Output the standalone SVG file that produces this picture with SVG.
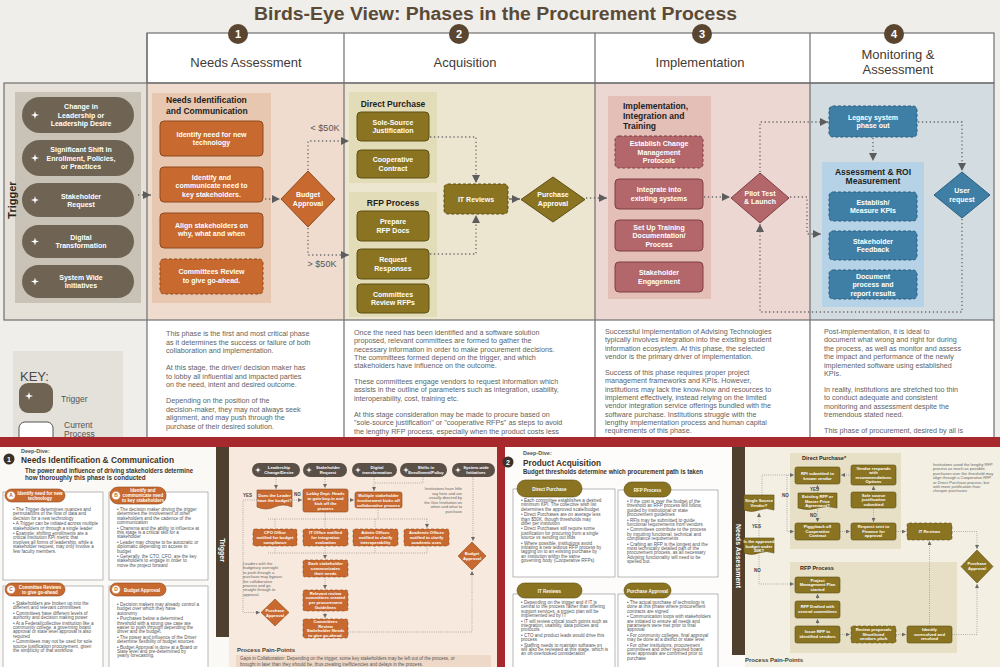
<svg xmlns="http://www.w3.org/2000/svg" width="1000" height="667" viewBox="0 0 1000 667">
<defs>
<style>
text{font-family:"Liberation Sans",Arial,sans-serif}
.hd{font-size:13px;fill:#3f3a34;text-anchor:middle}
.num{font-size:11px;font-weight:bold;fill:#fff;text-anchor:middle}
.bx{font-size:7px;font-weight:bold;fill:#fff;text-anchor:middle}
.pt{font-size:8.5px;font-weight:bold;fill:#1e1e1e}
.body{font-size:7.2px;fill:#626262}
.lbl{font-size:9px;fill:#555}
.c{fill:none;stroke:#6a6a6a;stroke-width:1.3;stroke-dasharray:1.3 2.6}
.cs{fill:none;stroke:#7d7d7d;stroke-width:.7;stroke-dasharray:.8 1.4}
.ob{fill:#c8692f;stroke:#8e4b1f;stroke-width:1}
.olv{fill:#8a7422;stroke:#5d4e13;stroke-width:1}
.rs{fill:#b3676a;stroke:#7e3f43;stroke-width:1}
.bl{fill:#3f7fa6;stroke:#2a5f80;stroke-width:1}
.pill{fill:#6f6453}
.dsh{stroke-dasharray:3 2}
.grid{fill:none;stroke:#707070;stroke-width:1.2}
.card{fill:#fff;stroke:#9a9a9a;stroke-width:.7}
.ct{font-size:4.6px;fill:#555}
.ch{font-size:4.5px;font-weight:bold;fill:#fff;text-anchor:middle}
.sb{font-size:4.2px;font-weight:bold;fill:#fff;text-anchor:middle}
.sob{fill:#c8692f;stroke:#8e4b1f;stroke-width:.6}
.sol{fill:#8a7422;stroke:#5d4e13;stroke-width:.6}
.note{font-size:4px;fill:#666}
.yn{font-size:4.5px;font-weight:bold;fill:#444}
</style>
<marker id="a" viewBox="0 0 10 10" refX="10" refY="5" markerWidth="9" markerHeight="8" markerUnits="userSpaceOnUse" orient="auto"><path d="M0,0L10,5L0,10z" fill="#5c5c5c"/></marker>
<marker id="s" viewBox="0 0 10 10" refX="10" refY="5" markerWidth="4" markerHeight="4" markerUnits="userSpaceOnUse" orient="auto"><path d="M0,0L10,5L0,10z" fill="#6a6a6a"/></marker>
<symbol id="sp" viewBox="-5 -5 10 10"><path d="M0,-5L1.1,-1.1L5,0L1.1,1.1L0,5L-1.1,1.1L-5,0L-1.1,-1.1Z" fill="#fff"/></symbol>
</defs>

<rect x="0" y="0" width="1000" height="667" fill="#f0eeea"/>

<g id="title">
<text x="254" y="20" font-size="18" font-weight="bold" fill="#5a4a37" textLength="483" lengthAdjust="spacingAndGlyphs">Birds-Eye View: Phases in the Procurement Process</text>
</g>

<g id="table">
<rect x="147" y="33" width="847" height="50" fill="#fff"/>
<rect x="4" y="83" width="143" height="237" fill="#e5e1d9"/>
<rect x="147" y="83" width="197" height="237" fill="#efdccf"/>
<rect x="344" y="83" width="251" height="237" fill="#ece6d1"/>
<rect x="595" y="83" width="215" height="237" fill="#ecd7d3"/>
<rect x="810" y="83" width="184" height="237" fill="#d3dce0"/>
<rect x="147" y="320" width="847" height="117" fill="#fff"/>
<rect x="147" y="33" width="847" height="50" class="grid"/>
<rect x="4" y="83" width="990" height="237" class="grid"/>
<path d="M147,33V437M344,33V437M595,33V437M810,33V437M994,320V437" class="grid"/>
</g>

<g id="headers">
<circle cx="238" cy="34" r="10" fill="#5a4630"/><text x="238" y="38" class="num">1</text>
<circle cx="459" cy="34" r="10" fill="#5a4630"/><text x="459" y="38" class="num">2</text>
<circle cx="702" cy="34" r="10" fill="#5a4630"/><text x="702" y="38" class="num">3</text>
<circle cx="894" cy="34" r="10" fill="#5a4630"/><text x="894" y="38" class="num">4</text>
<text x="246" y="67" class="hd">Needs Assessment</text>
<text x="465" y="67" class="hd">Acquisition</text>
<text x="700" y="67" class="hd">Implementation</text>
<text x="898" y="59" class="hd">Monitoring &amp;</text>
<text x="898" y="74" class="hd">Assessment</text>
</g>

<g id="trigger">
<rect x="15" y="92" width="126" height="211" fill="#c9c2b6"/>
<text transform="translate(16,200) rotate(-90)" font-size="11" font-weight="bold" fill="#2a2520" text-anchor="middle">Trigger</text>
<g id="t1"><rect x="22" y="97" width="112" height="36" rx="18" class="pill"/><use href="#sp" x="31" y="111" width="8" height="8"/><text class="bx"><tspan x="81" y="109">Change in</tspan><tspan x="81" y="117.5">Leadership or</tspan><tspan x="81" y="126">Leadership Desire</tspan></text></g>
<g id="t2"><rect x="22" y="140" width="112" height="36" rx="18" class="pill"/><use href="#sp" x="31" y="154" width="8" height="8"/><text class="bx"><tspan x="81" y="152">Significant Shift in</tspan><tspan x="81" y="160.5">Enrollment, Policies,</tspan><tspan x="81" y="169">or Practices</tspan></text></g>
<g id="t3"><rect x="22" y="183" width="112" height="34" rx="17" class="pill"/><use href="#sp" x="31" y="196" width="8" height="8"/><text class="bx"><tspan x="81" y="198.5">Stakeholder</tspan><tspan x="81" y="207">Request</tspan></text></g>
<g id="t4"><rect x="22" y="225" width="112" height="33" rx="16.5" class="pill"/><use href="#sp" x="31" y="237.5" width="8" height="8"/><text class="bx"><tspan x="81" y="239.5">Digital</tspan><tspan x="81" y="248">Transformation</tspan></text></g>
<g id="t5"><rect x="22" y="265" width="112" height="33" rx="16.5" class="pill"/><use href="#sp" x="31" y="277.5" width="8" height="8"/><text class="bx"><tspan x="81" y="279.5">System Wide</tspan><tspan x="81" y="288">Initiatives</tspan></text></g>
</g>

<g id="needs">
<rect x="152" y="93" width="119" height="210" fill="#e8c7b0"/>
<text class="pt"><tspan x="166" y="103">Needs Identification</tspan><tspan x="166" y="113.5">and Communication</tspan></text>
<g id="n1"><rect x="160" y="121" width="103" height="35" rx="4" class="ob"/><text class="bx"><tspan x="211.5" y="136.5">Identify need for new</tspan><tspan x="211.5" y="145">technology</tspan></text></g>
<g id="n2"><rect x="160" y="167" width="103" height="35" rx="4" class="ob"/><text class="bx"><tspan x="211.5" y="179.5">Identify and</tspan><tspan x="211.5" y="188">communicate need to</tspan><tspan x="211.5" y="196.5">key stakeholders.</tspan></text></g>
<g id="n3"><rect x="160" y="213" width="103" height="35" rx="4" class="ob"/><text class="bx"><tspan x="211.5" y="227.5">Align stakeholders on</tspan><tspan x="211.5" y="236">why, what and when</tspan></text></g>
<g id="n4"><rect x="160" y="259" width="103" height="35" rx="4" class="ob dsh"/><text class="bx"><tspan x="211.5" y="274">Committees Review</tspan><tspan x="211.5" y="282.5">to give go-ahead.</tspan></text></g>
<g id="budget"><path d="M308,171L335,199L308,227L281,199Z" class="ob"/><text class="bx"><tspan x="308" y="197">Budget</tspan><tspan x="308" y="205.5">Approval</tspan></text></g>
<text x="325" y="131" class="lbl" text-anchor="middle">&lt; $50K</text>
<text x="322" y="267" class="lbl" text-anchor="middle">&gt; $50K</text>
</g>

<g id="acquisition">
<rect x="349" y="92" width="88" height="91" fill="#e3dcb9"/>
<rect x="349" y="192" width="88" height="125" fill="#e3dcb9"/>
<text x="393" y="107" class="pt" text-anchor="middle">Direct Purchase</text>
<text x="393" y="206" class="pt" text-anchor="middle">RFP Process</text>
<g id="a1"><rect x="357" y="112" width="72" height="29" rx="4" class="olv"/><text class="bx"><tspan x="393" y="124.5">Sole-Source</tspan><tspan x="393" y="133">Justification</tspan></text></g>
<g id="a2"><rect x="357" y="150" width="72" height="28" rx="4" class="olv"/><text class="bx"><tspan x="393" y="162">Cooperative</tspan><tspan x="393" y="170.5">Contract</tspan></text></g>
<g id="a3"><rect x="357" y="211" width="72" height="30" rx="4" class="olv"/><text class="bx"><tspan x="393" y="224">Prepare</tspan><tspan x="393" y="232.5">RFP Docs</tspan></text></g>
<g id="a4"><rect x="357" y="249" width="72" height="30" rx="4" class="olv"/><text class="bx"><tspan x="393" y="262">Request</tspan><tspan x="393" y="270.5">Responses</tspan></text></g>
<g id="a5"><rect x="357" y="284" width="72" height="29" rx="4" class="olv"/><text class="bx"><tspan x="393" y="296.5">Committees</tspan><tspan x="393" y="305">Review RFPs</tspan></text></g>
<g id="itr"><rect x="444" y="184" width="64" height="30" rx="4" class="olv dsh"/><text x="476" y="201.5" class="bx">IT Reviews</text></g>
<g id="pa"><path d="M553,177L585,199.5L553,222L521,199.5Z" class="olv"/><text class="bx"><tspan x="553" y="197">Purchase</tspan><tspan x="553" y="205.5">Approval</tspan></text></g>
</g>

<g id="implementation">
<rect x="608" y="96" width="103" height="203" fill="#e3bfb8"/>
<text class="pt" font-size="9"><tspan x="623" y="108.5">Implementation,</tspan><tspan x="623" y="118.5">Integration and</tspan><tspan x="623" y="128.5">Training</tspan></text>
<g id="i1"><rect x="615" y="136" width="88" height="32" rx="4" class="rs dsh"/><text class="bx"><tspan x="659" y="146">Establish Change</tspan><tspan x="659" y="154.5">Management</tspan><tspan x="659" y="163">Protocols</tspan></text></g>
<g id="i2"><rect x="615" y="179" width="88" height="30" rx="4" class="rs"/><text class="bx"><tspan x="659" y="192">Integrate into</tspan><tspan x="659" y="200.5">existing systems</tspan></text></g>
<g id="i3"><rect x="615" y="220" width="88" height="31" rx="4" class="rs"/><text class="bx"><tspan x="659" y="229.5">Set Up Training</tspan><tspan x="659" y="238">Documentation/</tspan><tspan x="659" y="246.5">Process</tspan></text></g>
<g id="i4"><rect x="615" y="262" width="88" height="30" rx="4" class="rs"/><text class="bx"><tspan x="659" y="275">Stakeholder</tspan><tspan x="659" y="283.5">Engagement</tspan></text></g>
<g id="pilot"><path d="M760,173L789,198L760,223L731,198Z" class="rs"/><text class="bx"><tspan x="760" y="195.5">Pilot Test</tspan><tspan x="760" y="204">&amp; Launch</tspan></text></g>
</g>

<g id="monitoring">
<g id="legacy"><rect x="829" y="106" width="88" height="31" rx="4" class="bl dsh"/><text class="bx"><tspan x="873" y="119.5">Legacy system</tspan><tspan x="873" y="128">phase out</tspan></text></g>
<rect x="822" y="162" width="102" height="145" fill="#b6d2e6"/>
<text class="pt" font-size="9" text-anchor="middle"><tspan x="873" y="174.5">Assessment &amp; ROI</tspan><tspan x="873" y="184">Measurement</tspan></text>
<g id="m1"><rect x="829" y="192" width="88" height="29" rx="4" class="bl dsh"/><text class="bx"><tspan x="873" y="204.5">Establish/</tspan><tspan x="873" y="213">Measure KPIs</tspan></text></g>
<g id="m2"><rect x="829" y="231" width="88" height="29" rx="4" class="bl dsh"/><text class="bx"><tspan x="873" y="243.5">Stakeholder</tspan><tspan x="873" y="252">Feedback</tspan></text></g>
<g id="m3"><rect x="829" y="270" width="88" height="29" rx="4" class="bl dsh"/><text class="bx"><tspan x="873" y="278.5">Document</tspan><tspan x="873" y="287">process and</tspan><tspan x="873" y="295.5">report results</tspan></text></g>
<g id="user"><path d="M962,172L990,195L962,218L934,195Z" class="bl"/><text class="bx"><tspan x="962" y="193">User</tspan><tspan x="962" y="201.5">request</tspan></text></g>
</g>

<g id="connectors">
<path d="M138,195H151" class="c" marker-end="url(#a)"/>
<path d="M265,199H280" class="c" marker-end="url(#a)"/>
<path d="M308,170V141H349" class="c" marker-end="url(#a)"/>
<path d="M308,228V255H349" class="c" marker-end="url(#a)"/>
<path d="M430,137H476V183" class="c" marker-end="url(#a)"/>
<path d="M430,254H476V215" class="c" marker-end="url(#a)"/>
<path d="M509,199H520" fill="none" stroke="#5c5c5c" stroke-width="1.3" marker-end="url(#a)"/>
<path d="M586,198H607" class="c" marker-end="url(#a)"/>
<path d="M704,197H730" class="c" marker-end="url(#a)"/>
<path d="M760,172V122H828" class="c" marker-end="url(#a)"/>
<path d="M790,197H807V234H821" class="c" marker-end="url(#a)"/>
<path d="M962,219V312H760V224" class="c" marker-end="url(#a)"/>
<path d="M918,122H962V171" class="c" marker-end="url(#a)"/>
<path d="M873,138V161" class="c" marker-end="url(#a)"/>
</g>

<g id="descriptions">
<text class="body"><tspan x="166" y="336">This phase is the first and most critical phase</tspan><tspan x="166" y="344.5">as it determines the success or failure of both</tspan><tspan x="166" y="353">collaboration and implementation.</tspan><tspan x="166" y="370">At this stage, the driver/ decision maker has</tspan><tspan x="166" y="378.5">to lobby all influential and impacted parties</tspan><tspan x="166" y="387">on the need, intent and desired outcome.</tspan><tspan x="166" y="403">Depending on the position of the</tspan><tspan x="166" y="411.5">decision-maker, they may not always seek</tspan><tspan x="166" y="420">alignment, and may push through the</tspan><tspan x="166" y="428.5">purchase of their desired solution.</tspan></text>
<text class="body"><tspan x="354" y="335">Once the need has been identified and a software solution</tspan><tspan x="354" y="343.3">proposed, relevant committees are formed to gather the</tspan><tspan x="354" y="351.6">necessary information in order to make procurement decisions.</tspan><tspan x="354" y="359.9">The committees formed depend on the trigger, and which</tspan><tspan x="354" y="368.2">stakeholders have influence on the outcome.</tspan><tspan x="354" y="384">These committees engage vendors to request information which</tspan><tspan x="354" y="392.3">assists in the outline of parameters such as integration, usability,</tspan><tspan x="354" y="400.6">interoperability, cost, training  etc.</tspan><tspan x="354" y="417">At this stage consideration may be made to procure based on</tspan><tspan x="354" y="425.3">"sole-source justification" or "cooperative RFPs" as steps to avoid</tspan><tspan x="354" y="433.6">the lengthy RFP process, especially when the product costs less</tspan></text>
<text class="body"><tspan x="605" y="334">Successful Implementation of Advising Technologies</tspan><tspan x="605" y="342.3">typically involves integration into the existing student</tspan><tspan x="605" y="350.6">information ecosystem. At this phase, the selected</tspan><tspan x="605" y="358.9">vendor is the primary driver of implementation.</tspan><tspan x="605" y="375">Success of this phase requires proper project</tspan><tspan x="605" y="383.3">management frameworks and KPIs. However,</tspan><tspan x="605" y="391.6">institutions may lack the know-how and resources to</tspan><tspan x="605" y="399.9">implement effectively, instead relying on the limited</tspan><tspan x="605" y="408.2">vendor integration service offerings bundled with the</tspan><tspan x="605" y="416.5">software purchase. Institutions struggle with the</tspan><tspan x="605" y="424.8">lengthy implementation process and human capital</tspan><tspan x="605" y="433.1">requirements of this phase.</tspan></text>
<text class="body"><tspan x="824" y="334">Post-implementation, it is ideal to</tspan><tspan x="824" y="342.4">document what wrong and right for during</tspan><tspan x="824" y="350.8">the process, as well as monitor and assess</tspan><tspan x="824" y="359.2">the impact and  performance of the newly</tspan><tspan x="824" y="367.6">implemented software using established</tspan><tspan x="824" y="376">KPIs.</tspan><tspan x="824" y="392">In reality, institutions are stretched too thin</tspan><tspan x="824" y="400.4">to conduct adequate and consistent</tspan><tspan x="824" y="408.8">monitoring and assessment despite the</tspan><tspan x="824" y="417.2">tremendous stated  need.</tspan><tspan x="824" y="433">This phase of procurement, desired by all is</tspan></text>
</g>

<g id="key">
<rect x="13" y="351" width="110" height="90" fill="#e4e0da"/>
<text x="20" y="381" font-size="13" fill="#4a4a4a">KEY:</text>
<rect x="19" y="383" width="34" height="30" rx="9" class="pill"/><use href="#sp" x="25" y="392" width="8" height="8"/>
<text x="61" y="402" font-size="8.5" fill="#555">Trigger</text>
<rect x="19" y="422" width="34" height="25" rx="6" fill="#fff" stroke="#555" stroke-width="1"/>
<text font-size="8.5" fill="#555"><tspan x="64" y="428">Current</tspan><tspan x="64" y="437">Process</tspan></text>
</g>

<g id="frame">
<rect x="0" y="437" width="1000" height="10" fill="#a8292d"/>
<rect x="0" y="447" width="497" height="220" fill="#fbf9f6"/>
<rect x="497" y="447" width="8" height="220" fill="#a8292d"/>
<rect x="505" y="447" width="495" height="220" fill="#fdfcfa"/>
</g>

<g id="dd1">
<circle cx="9" cy="459" r="5.5" fill="#3b3127"/><text x="9" y="461.5" font-size="7" font-weight="bold" fill="#fff" text-anchor="middle">1</text>
<text x="21" y="453" font-size="5.5" font-weight="bold" fill="#555">Deep-Dive:</text>
<text x="21" y="463" font-size="9.5" font-weight="bold" fill="#3d3328" textLength="153" lengthAdjust="spacingAndGlyphs">Needs Identification &amp; Communication</text>
<text font-size="6.3" font-weight="bold" fill="#3d3328"><tspan x="25" y="473" textLength="168" lengthAdjust="spacingAndGlyphs">The power and influence of driving stakeholders determine</tspan><tspan x="25" y="480">how thoroughly this phase is conducted</tspan></text>
<g id="cardA"><rect x="3" y="492" width="100" height="88" class="card"/><rect x="5" y="489" width="60" height="13" rx="6.5" class="sob"/><circle cx="11" cy="495.5" r="4.3" fill="#fff" stroke="#c8692f" stroke-width=".6"/><text x="11" y="497.3" font-size="5" font-weight="bold" fill="#c8692f" text-anchor="middle">A</text><text class="ch"><tspan x="40" y="494.5">Identify need for new</tspan><tspan x="40" y="500">technology</tspan></text>
<text class="ct"><tspan x="13" y="511">• The Trigger determines nuances and</tspan><tspan x="13" y="515.4">permutations of the flow of data and</tspan><tspan x="13" y="519.8">decision for a new technology</tspan><tspan x="13" y="525.2">• A Trigger can be initiated across multiple</tspan><tspan x="13" y="529.6">stakeholders or through a single leader</tspan><tspan x="13" y="535">• Example: shifting enrollments are a</tspan><tspan x="13" y="539.4">critical institution KPI metric that</tspan><tspan x="13" y="543.8">involves all forms of leadership, while a</tspan><tspan x="13" y="548.2">stakeholder request, may only involve a</tspan><tspan x="13" y="552.6">few faculty members.</tspan></text></g>
<g id="cardB"><rect x="109" y="492" width="99" height="88" class="card"/><rect x="110" y="487" width="56" height="17" rx="8" class="sob"/><circle cx="116" cy="495.5" r="4.3" fill="#fff" stroke="#c8692f" stroke-width=".6"/><text x="116" y="497.3" font-size="5" font-weight="bold" fill="#c8692f" text-anchor="middle">B</text><text class="ch" font-size="4.3"><tspan x="143" y="491.5">Identify and</tspan><tspan x="143" y="496.5">communicate need</tspan><tspan x="143" y="501.5">to key stakeholders</tspan></text>
<text class="ct"><tspan x="117" y="511">• The decision maker driving the trigger</tspan><tspan x="117" y="515.4">determines the involvement of other</tspan><tspan x="117" y="519.8">stakeholders and the cadence of the</tspan><tspan x="117" y="524.2">communication</tspan><tspan x="117" y="529.6">• Charisma and the ability to influence at</tspan><tspan x="117" y="534">this stage is a critical skill for a</tspan><tspan x="117" y="538.4">stakeholder</tspan><tspan x="117" y="543.8">• Leader may choose to be autocratic or</tspan><tspan x="117" y="548.2">diplomatic depending on access to</tspan><tspan x="117" y="552.6">budget</tspan><tspan x="117" y="558">• Generally, the CTO, CFO, are the key</tspan><tspan x="117" y="562.4">stakeholders to engage in order to</tspan><tspan x="117" y="566.8">move the project forward</tspan></text></g>
<g id="cardC"><rect x="3" y="586" width="100" height="85" class="card"/><rect x="5" y="583" width="60" height="13" rx="6.5" class="sob"/><circle cx="11" cy="589.5" r="4.3" fill="#fff" stroke="#c8692f" stroke-width=".6"/><text x="11" y="591.3" font-size="5" font-weight="bold" fill="#c8692f" text-anchor="middle">C</text><text class="ch"><tspan x="40" y="588.5">Committee Reviews</tspan><tspan x="40" y="594">to give go-ahead</tspan></text>
<text class="ct"><tspan x="13" y="605">• Stakeholders are broken up into the</tspan><tspan x="13" y="609.4">different and relevant committees</tspan><tspan x="13" y="614.8">• Committees have different levels of</tspan><tspan x="13" y="619.2">authority and decision making power</tspan><tspan x="13" y="624.6">• At a Federal/collective institution like a</tspan><tspan x="13" y="629">community college, a governing board</tspan><tspan x="13" y="633.4">approval or state level approval is also</tspan><tspan x="13" y="637.8">required</tspan><tspan x="13" y="643.2">• Committees may not be used for  sole</tspan><tspan x="13" y="647.6">source justification procurement, given</tspan><tspan x="13" y="652">the simplicity of that workflow.</tspan></text></g>
<g id="cardD"><rect x="109" y="586" width="99" height="85" class="card"/><rect x="110" y="583" width="56" height="13" rx="6.5" class="sob"/><circle cx="116" cy="589.5" r="4.3" fill="#fff" stroke="#c8692f" stroke-width=".6"/><text x="116" y="591.3" font-size="5" font-weight="bold" fill="#c8692f" text-anchor="middle">D</text><text x="142" y="591.5" class="ch">Budget Approval</text>
<text class="ct"><tspan x="117" y="606">• Decision makers may already control a</tspan><tspan x="117" y="610.4">budget  over which they have</tspan><tspan x="117" y="614.8">autonomy</tspan><tspan x="117" y="620.2">• Purchases below a determined</tspan><tspan x="117" y="624.6">threshold with a strong use case are</tspan><tspan x="117" y="629">easier to push through depending the</tspan><tspan x="117" y="633.4">driver and the budget.</tspan><tspan x="117" y="638.8">• The power and influence of the Driver</tspan><tspan x="117" y="643.2">determine flexibility of budget sources.</tspan><tspan x="117" y="648.6">• Budget Approval is done at a Board or</tspan><tspan x="117" y="653">State level and pre-determined by</tspan><tspan x="117" y="657.4">yearly forecasting.</tspan></text></g>
</g>

<g id="flow1">
<rect x="216" y="447" width="13" height="190" fill="#4f3f2e"/>
<text transform="translate(220,550) rotate(90)" font-size="7" font-weight="bold" fill="#fff" text-anchor="middle">Trigger</text>
<rect x="229" y="447" width="268" height="220" fill="#f7e9dd"/>
<g id="fp1"><rect x="252" y="463" width="48" height="14" rx="7" fill="#5a5048"/><use href="#sp" x="255" y="467" width="6" height="6"/><text class="sb"><tspan x="279" y="469">Leadership</tspan><tspan x="279" y="474">Change/Desire</tspan></text></g>
<g id="fp2"><rect x="303" y="463" width="44" height="14" rx="7" fill="#5a5048"/><use href="#sp" x="306" y="467" width="6" height="6"/><text class="sb"><tspan x="328" y="469">Stakeholder</tspan><tspan x="328" y="474">Request</tspan></text></g>
<g id="fp3"><rect x="352" y="463" width="45" height="14" rx="7" fill="#5a5048"/><use href="#sp" x="355" y="467" width="6" height="6"/><text class="sb"><tspan x="377" y="469">Digital</tspan><tspan x="377" y="474">transformation</tspan></text></g>
<g id="fp4"><rect x="400" y="463" width="47" height="14" rx="7" fill="#5a5048"/><use href="#sp" x="403" y="467" width="6" height="6"/><text class="sb"><tspan x="426" y="469">Shifts in</tspan><tspan x="426" y="474">Enrollment/Policy</tspan></text></g>
<g id="fp5"><rect x="452" y="463" width="43" height="14" rx="7" fill="#5a5048"/><use href="#sp" x="455" y="467" width="6" height="6"/><text class="sb"><tspan x="476" y="469">System-wide</tspan><tspan x="476" y="474">Initiatives</tspan></text></g>
<g id="fdoes"><path d="M257,490H292V507Q283,503 274.5,507Q266,511 257,507Z" class="sob"/><text class="sb"><tspan x="274.5" y="497">Does the Leader</tspan><tspan x="274.5" y="502">have the budget?</tspan></text></g>
<g id="flobby"><rect x="303" y="489" width="45" height="23" rx="2" class="sob"/><text class="sb"><tspan x="325.5" y="494.5">Lobby Dept. Heads</tspan><tspan x="325.5" y="499.5">to gain buy-in and</tspan><tspan x="325.5" y="504.5">kick off the</tspan><tspan x="325.5" y="509.5">process</tspan></text></g>
<g id="fmult"><rect x="355" y="492" width="47" height="16" rx="2" class="sob"/><text class="sb"><tspan x="378.5" y="496.5">Multiple stakeholder</tspan><tspan x="378.5" y="501.5">involvement kicks off</tspan><tspan x="378.5" y="506.5">collaborative process</tspan></text></g>
<text class="note" text-anchor="end"><tspan x="462" y="490">Institutions have little</tspan><tspan x="462" y="494.5">say here and are</tspan><tspan x="462" y="499">usually directed by</tspan><tspan x="462" y="503.5">the Gov Institution on</tspan><tspan x="462" y="508">when and what to</tspan><tspan x="462" y="512.5">purchase</tspan></text>
<text x="243" y="497" class="yn">YES</text><text x="294" y="496" class="yn">NO</text>
<g id="fcfo"><rect x="253" y="529" width="44" height="17" rx="2" class="sob dsh"/><text class="sb"><tspan x="275" y="533.5">CFO Office</tspan><tspan x="275" y="538.5">notified for budget</tspan><tspan x="275" y="543.5">compliance</tspan></text></g>
<g id="fit"><rect x="303" y="529" width="45" height="17" rx="2" class="sob dsh"/><text class="sb"><tspan x="325.5" y="533.5">IT  Office notified</tspan><tspan x="325.5" y="538.5">for integration</tspan><tspan x="325.5" y="543.5">evaluation</tspan></text></g>
<g id="fadm"><rect x="353" y="529" width="45" height="17" rx="2" class="sob dsh"/><text class="sb"><tspan x="375.5" y="533.5">Admin Offices</tspan><tspan x="375.5" y="538.5">notified to clarify</tspan><tspan x="375.5" y="543.5">interoperability</tspan></text></g>
<g id="facad"><rect x="404" y="529" width="45" height="17" rx="2" class="sob dsh"/><text class="sb"><tspan x="426.5" y="533.5">Academic  Offices</tspan><tspan x="426.5" y="538.5">notified to clarify</tspan><tspan x="426.5" y="543.5">academic uses</tspan></text></g>
<text class="note"><tspan x="243" y="565">Leaders with the</tspan><tspan x="243" y="569.4">budgetary oversight</tspan><tspan x="243" y="573.8">to push through a</tspan><tspan x="243" y="578.2">purchase may bypass</tspan><tspan x="243" y="582.6">the collaborative</tspan><tspan x="243" y="587">process and go</tspan><tspan x="243" y="591.4">straight through to</tspan><tspan x="243" y="595.8">approval.</tspan></text>
<g id="feach"><rect x="303" y="560" width="45" height="17" rx="2" class="sob dsh"/><text class="sb"><tspan x="325.5" y="564.5">Each stakeholder</tspan><tspan x="325.5" y="569.5">communicates</tspan><tspan x="325.5" y="574.5">their needs</tspan></text></g>
<g id="frel"><rect x="303" y="590" width="45" height="21" rx="2" class="sob dsh"/><text class="sb"><tspan x="325.5" y="594.5">Relevant review</tspan><tspan x="325.5" y="599.3">committees created</tspan><tspan x="325.5" y="604.1">per procurement</tspan><tspan x="325.5" y="608.9">Guidelines</tspan></text></g>
<g id="fcom"><rect x="303" y="619" width="45" height="19" rx="2" class="sob dsh"/><text class="sb"><tspan x="325.5" y="623">Committees</tspan><tspan x="325.5" y="627.5">Review</tspan><tspan x="325.5" y="632">Stakeholder Needs</tspan><tspan x="325.5" y="636.5">to give go-ahead.</tspan></text></g>
<g id="fpa"><path d="M275,599L289,612.5L275,626L261,612.5Z" class="sob"/><text class="sb"><tspan x="275" y="611.5">Purchase</tspan><tspan x="275" y="616.5">Approval</tspan></text></g>
<g id="fba"><path d="M472,542L486,556L472,570L458,556Z" class="sob"/><text class="sb"><tspan x="472" y="555">Budget</tspan><tspan x="472" y="560">Approval</tspan></text></g>
<text x="237" y="652" font-size="6" font-weight="bold" fill="#4a3f36">Process Pain-Points</text>
<rect x="236" y="655" width="255" height="12" fill="#eed9c8"/>
<text font-size="4.6" fill="#555"><tspan x="240" y="660">Gaps in Collaboration: Depending on the trigger, some key stakeholders may be left out of the process, or</tspan><tspan x="240" y="665.5">brought in later than they should be, thus creating inefficiencies and delays in the process.</tspan></text>
</g>

<g id="flow1-connectors">
<path d="M276,477V489" class="cs" marker-end="url(#s)"/>
<path d="M325,477V488" class="cs" marker-end="url(#s)"/>
<path d="M374,477V491" class="cs" marker-end="url(#s)"/>
<path d="M423,477V483H374" class="cs"/>
<path d="M473,477V541" class="cs" marker-end="url(#s)"/>
<path d="M292,500H302" class="cs" marker-end="url(#s)"/>
<path d="M348,500H354" class="cs" marker-end="url(#s)"/>
<path d="M257,500H243V612.5H260" class="cs" marker-end="url(#s)"/>
<path d="M325,512V519M378,508V519M268,519H427" class="cs"/>
<path d="M275,519V528M325,519V528M375,519V528M427,519V528" class="cs" marker-end="url(#s)"/>
<path d="M275,546V553M375,546V553M427,546V553M268,553H427" class="cs"/>
<path d="M325,546V559" class="cs" marker-end="url(#s)"/>
<path d="M325,577V589" class="cs" marker-end="url(#s)"/>
<path d="M325,611V618" class="cs" marker-end="url(#s)"/>
<path d="M348,632H472V571" class="cs" marker-end="url(#s)"/>
</g>

<g id="dd2">
<circle cx="508" cy="462" r="5.5" fill="#3b3127"/><text x="508" y="464.5" font-size="7" font-weight="bold" fill="#fff" text-anchor="middle">2</text>
<text x="523" y="455" font-size="5.5" font-weight="bold" fill="#555">Deep-Dive:</text>
<text x="523" y="466" font-size="9.5" font-weight="bold" fill="#3d3328" textLength="78" lengthAdjust="spacingAndGlyphs">Product Acquisition</text>
<text x="523" y="473.5" font-size="6.3" font-weight="bold" fill="#3d3328" textLength="180" lengthAdjust="spacingAndGlyphs">Budget thresholds determine which procurement path is taken</text>
<g id="cardDP"><rect x="513" y="489" width="102" height="88" class="card"/><rect x="517" y="480" width="65" height="17" rx="8.5" class="sol"/><text x="549.5" y="490.5" class="ch">Direct Purchase</text>
<text class="ct"><tspan x="521" y="502">• Each committee establishes a  desired</tspan><tspan x="521" y="506.4">minimum KPI. The collective wish list</tspan><tspan x="521" y="510.8">determines the approved scale/budget</tspan><tspan x="521" y="516.2">• Direct Purchases are on average less</tspan><tspan x="521" y="520.6">than $50K, though thresholds may</tspan><tspan x="521" y="525">differ per institution</tspan><tspan x="521" y="530.4">• Direct Purchases still require some</tspan><tspan x="521" y="534.8">justification for procuring from a single</tspan><tspan x="521" y="539.2">source vs sending out bids</tspan><tspan x="521" y="544.6">• Where possible, institutions avoid</tspan><tspan x="521" y="549">initiating a new tedious RFP process by</tspan><tspan x="521" y="553.4">tagging on to an existing purchase by</tspan><tspan x="521" y="557.8">an institution within the same</tspan><tspan x="521" y="562.2">governing body (Cooperative RFPs)</tspan></text></g>
<g id="cardRFP"><rect x="618" y="490" width="100" height="87" class="card"/><rect x="624" y="482" width="47" height="15" rx="7.5" class="sol"/><text x="647.5" y="491.5" class="ch">RFP Process</text>
<text class="ct"><tspan x="627" y="503">• If the cost is over the budget of the</tspan><tspan x="627" y="507.4">threshold an RFP process will follow,</tspan><tspan x="627" y="511.8">guided by institutional or state</tspan><tspan x="627" y="516.2">procurement guidelines</tspan><tspan x="627" y="521.6">• RFIs may be submitted to guide</tspan><tspan x="627" y="526">functional requirements from vendors</tspan><tspan x="627" y="531.4">• Committees contribute to the process</tspan><tspan x="627" y="535.8">by inputting functional, technical  and</tspan><tspan x="627" y="540.2">compliance requirements</tspan><tspan x="627" y="545.6">• Crafting an RFP is the longest and the</tspan><tspan x="627" y="550">most technically detailed part of the</tspan><tspan x="627" y="554.4">procurement process, as all necessary</tspan><tspan x="627" y="558.8">Advising functionality will need to be</tspan><tspan x="627" y="563.2">spelled out.</tspan></text></g>
<g id="cardIT"><rect x="513" y="594" width="102" height="80" class="card"/><rect x="517" y="583" width="65" height="15" rx="7.5" class="sol"/><text x="549.5" y="592.5" class="ch">IT Reviews</text>
<text class="ct"><tspan x="521" y="604">• Depending on the trigger and if IT is</tspan><tspan x="521" y="608.4">central to the process rather than offering</tspan><tspan x="521" y="612.8">support services, a project plan will be</tspan><tspan x="521" y="617.2">implemented led by IT</tspan><tspan x="521" y="622.6">• IT will review critical touch points such as</tspan><tspan x="521" y="627">integration, usability, data policies and</tspan><tspan x="521" y="631.4">protocols</tspan><tspan x="521" y="636.8">• CTO and product leads would drive this</tspan><tspan x="521" y="641.2">process</tspan><tspan x="521" y="646.6">• Staffing needs to maintain software on</tspan><tspan x="521" y="651">will also be reviewed at this stage, which is</tspan><tspan x="521" y="655.4">an oft-overlooked consideration</tspan></text></g>
<g id="cardPA"><rect x="618" y="594" width="100" height="80" class="card"/><rect x="624" y="583" width="47" height="15" rx="7.5" class="sol"/><text x="647.5" y="592.5" class="ch">Purchase Approval</text>
<text class="ct"><tspan x="627" y="604">• The actual purchase of technology is</tspan><tspan x="627" y="608.4">done at this phase where procurement</tspan><tspan x="627" y="612.8">contracts are signed</tspan><tspan x="627" y="618.2">• Communication loops with stakeholders</tspan><tspan x="627" y="622.6">are initiated to ensure all needs and</tspan><tspan x="627" y="627">parameters were met prior to final</tspan><tspan x="627" y="631.4">approval</tspan><tspan x="627" y="636.8">• For community colleges, final approval</tspan><tspan x="627" y="641.2">may be done at a district or state level</tspan><tspan x="627" y="646.6">• For other  institutions, procurement</tspan><tspan x="627" y="651">committees and other required board</tspan><tspan x="627" y="655.4">level approvals are confirmed prior to</tspan><tspan x="627" y="659.8">purchase</tspan></text></g>
</g>

<g id="flow2">
<rect x="732" y="447" width="13" height="208" fill="#4f3f2e"/>
<text transform="translate(736,556) rotate(90)" font-size="7" font-weight="bold" fill="#fff" text-anchor="middle">Needs Assessment</text>
<rect x="745" y="447" width="255" height="220" fill="#f3efe3"/>
<rect x="790" y="453" width="111" height="96" fill="#e7e0c6"/>
<text x="802" y="460" font-size="5.5" font-weight="bold" fill="#2a2520">Direct Purchase*</text>
<rect x="790" y="562" width="167" height="91" fill="#e7e0c6"/>
<text x="800" y="570" font-size="5.5" font-weight="bold" fill="#2a2520">RFP Process</text>
<g id="g-rfi"><rect x="795" y="467" width="45" height="17" rx="2" class="sol"/><text class="sb"><tspan x="817.5" y="474.5">RFI submitted to</tspan><tspan x="817.5" y="479.5">known vendor</tspan></text></g>
<g id="g-vendor"><rect x="851" y="465" width="45" height="20" rx="2" class="sol"/><text class="sb"><tspan x="873.5" y="469.5">Vendor responds</tspan><tspan x="873.5" y="474">with</tspan><tspan x="873.5" y="478.5">recommendations</tspan><tspan x="873.5" y="483">Options</tspan></text></g>
<g id="g-exist"><path d="M798,493H837V508Q827.5,505 817.5,508Q807.5,511 798,508Z" class="sol"/><text class="sb"><tspan x="817.5" y="498">Existing RFP or</tspan><tspan x="817.5" y="502.5">Master Price</tspan><tspan x="817.5" y="507">Agreement?</tspan></text></g>
<g id="g-sole"><rect x="851" y="492" width="45" height="16" rx="2" class="sol"/><text class="sb"><tspan x="873.5" y="496.5">Sole source</tspan><tspan x="873.5" y="501">justification</tspan><tspan x="873.5" y="505.5">submitted</tspan></text></g>
<g id="g-piggy"><rect x="795" y="523" width="45" height="17" rx="2" class="sol"/><text class="sb"><tspan x="817.5" y="528">Piggyback off</tspan><tspan x="817.5" y="532.5">Cooperative</tspan><tspan x="817.5" y="537">Contract</tspan></text></g>
<g id="g-req"><rect x="851" y="523" width="45" height="17" rx="2" class="sol"/><text class="sb"><tspan x="873.5" y="528">Request sent to</tspan><tspan x="873.5" y="532.5">Finance for</tspan><tspan x="873.5" y="537">approval</tspan></text></g>
<g id="g-it"><rect x="907" y="523" width="45" height="17" rx="2" class="sol dsh"/><text x="929.5" y="533" class="sb">IT Reviews</text></g>
<g id="g-single"><path d="M744,495H774V510Q766.5,507 759,510Q751.5,513 744,510Z" class="sol"/><text class="sb"><tspan x="759" y="502">Single Source</tspan><tspan x="759" y="506.5">Vendor?</tspan></text></g>
<g id="g-bud"><path d="M744,538H774V553Q766.5,550 759,553Q751.5,556 744,553Z" class="sol"/><text class="sb"><tspan x="759" y="543">Is the approved</tspan><tspan x="759" y="547.5">budget under</tspan><tspan x="759" y="552">50K?</tspan></text></g>
<g id="g-pa"><path d="M977,550L993,566.5L977,583L961,566.5Z" class="sol"/><text class="sb"><tspan x="977" y="565">Purchase</tspan><tspan x="977" y="570">Approval</tspan></text></g>
<g id="g-pm"><rect x="795" y="577" width="45" height="16" rx="2" class="sol"/><text class="sb"><tspan x="817.5" y="581.5">Project</tspan><tspan x="817.5" y="586">Management Plan</tspan><tspan x="817.5" y="590.5">started</tspan></text></g>
<g id="g-draft"><rect x="795" y="601" width="45" height="17" rx="2" class="sol"/><text class="sb"><tspan x="817.5" y="608">RFP Drafted with</tspan><tspan x="817.5" y="613">several committees</tspan></text></g>
<g id="g-issue"><rect x="795" y="626" width="45" height="17" rx="2" class="sol"/><text class="sb"><tspan x="817.5" y="633">Issue RFP to</tspan><tspan x="817.5" y="638">identified  vendors</tspan></text></g>
<g id="g-review"><rect x="851" y="626" width="45" height="17" rx="2" class="sol dsh"/><text class="sb"><tspan x="873.5" y="631">Review proposals</tspan><tspan x="873.5" y="635.5">Shortlisted</tspan><tspan x="873.5" y="640">vendors pitch</tspan></text></g>
<g id="g-ident"><rect x="907" y="626" width="45" height="17" rx="2" class="sol"/><text class="sb"><tspan x="929.5" y="631">Identify</tspan><tspan x="929.5" y="635.5">unresolved and</tspan><tspan x="929.5" y="640">resolved</tspan></text></g>
<text class="note" font-size="3.8"><tspan x="933" y="466">Institutions avoid the lengthy RFP</tspan><tspan x="933" y="470.4">process as much as possible;</tspan><tspan x="933" y="474.8">purchases over the threshold may</tspan><tspan x="933" y="479.2">align through a Cooperative RFP</tspan><tspan x="933" y="483.6">or Direct Purchase process, but</tspan><tspan x="933" y="488">with more justification than</tspan><tspan x="933" y="492.4">cheaper purchases</tspan></text>
<text x="782" y="497" class="yn">NO</text><text x="810" y="491" class="yn">YES</text><text x="810" y="517" class="yn">NO</text><text x="752" y="528" class="yn">YES</text><text x="754" y="572" class="yn">NO</text>
<text x="745" y="662" font-size="6" font-weight="bold" fill="#4a3f36">Process Pain-Points</text>
</g>

<g id="flow2-connectors">
<path d="M762,495V475H794" class="cs" marker-end="url(#s)"/>
<path d="M787,475V531.5H794" class="cs" marker-end="url(#s)"/>
<path d="M759,538V513" class="cs" marker-end="url(#s)"/>
<path d="M759,555V584H794" class="cs" marker-end="url(#s)"/>
<path d="M817.5,493V485" class="cs" marker-end="url(#s)"/>
<path d="M817.5,509V522" class="cs" marker-end="url(#s)"/>
<path d="M851,475H841" class="cs" marker-end="url(#s)"/>
<path d="M873.5,492V486" class="cs" marker-end="url(#s)"/>
<path d="M873.5,508V522" class="cs" marker-end="url(#s)"/>
<path d="M840,531.5H850" class="cs" marker-end="url(#s)"/>
<path d="M896,531.5H906" class="cs" marker-end="url(#s)"/>
<path d="M952,531.5H977V549" class="cs" marker-end="url(#s)"/>
<path d="M929.5,626V541" class="cs" marker-end="url(#s)"/>
<path d="M952,634.5H977V584" class="cs" marker-end="url(#s)"/>
<path d="M817.5,601V594" class="cs" marker-end="url(#s)"/>
<path d="M817.5,626V619" class="cs" marker-end="url(#s)"/>
<path d="M840,634.5H850" class="cs" marker-end="url(#s)"/>
<path d="M896,634.5H906" class="cs" marker-end="url(#s)"/>
</g>
</svg>
